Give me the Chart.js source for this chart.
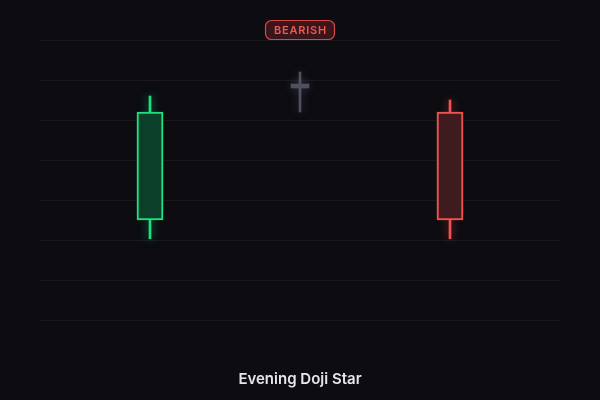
<!DOCTYPE html>
<html>
<head>
<meta charset="utf-8">
<script src="https://cdn.jsdelivr.net/npm/chart.js@4"></script>
<style>
  html, body { margin: 0; padding: 0; background: #0c0c11; }
  #wrap { width: 600px; height: 400px; position: relative; }
</style>
</head>
<body>
<div id="wrap"><canvas id="myChart"></canvas></div>
<script>
// candle data (x = session index)
const sessions = [1, 2, 3];
const opens  = [25, 58, 52];
const highs  = [56, 62, 55];
const lows   = [20.3, 52, 20.3];
const closes = [52, 58, 25];

const patternName = 'Evening Doji Star';
const signal = 'BEARISH';

// colours by candle kind
const kinds = {
  bull: { line: '#1fe07f', fill: '#0c3f29', glow: 'rgba(31,224,127,0.6)' },
  bear: { line: '#f45252', fill: '#3d1b1f', glow: 'rgba(244,82,82,0.6)' },
  doji: { line: '#50505f', fill: '#50505f', glow: 'rgba(120,120,140,0.4)' }
};

function kindOf(i) {
  if (closes[i] > opens[i]) return 'bull';
  if (closes[i] < opens[i]) return 'bear';
  return 'doji';
}

var datasets = [];
sessions.forEach(function(x, i) {
  const k = kinds[kindOf(i)];
  // wick
  datasets.push({
    data: [{ x: x, y: [lows[i], highs[i]] }],
    backgroundColor: k.line,
    borderWidth: 0,
    barThickness: 2,
    grouped: false,
    order: 2,
    glow: k.glow
  });
  // body
  const doji = kindOf(i) == 'doji';
  datasets.push({
    data: [{ x: x, y: [opens[i], closes[i]] }],
    backgroundColor: k.fill,
    borderColor: k.line,
    borderWidth: doji ? 0 : 2,
    borderSkipped: false,
    barThickness: doji ? 18 : 26,
    minBarLength: doji ? 4 : 0,
    grouped: false,
    order: 1,
    glow: k.glow
  });
});

const glowPlugin = {
  id: 'glow',
  beforeDraw(chart) {
    const ctx = chart.ctx;
    ctx.save();
    ctx.fillStyle = '#0c0c11';
    ctx.fillRect(0, 0, chart.width, chart.height);
    ctx.restore();
  },
  beforeDatasetDraw(chart, args) {
    const ctx = chart.ctx;
    ctx.save();
    ctx.shadowColor = args.meta.controller.getDataset().glow;
    ctx.shadowBlur = 10;
  },
  afterDatasetDraw(chart) {
    chart.ctx.restore();
  },
  afterDraw(chart) {
    const ctx = chart.ctx;
    ctx.save();
    // badge
    ctx.beginPath();
    ctx.roundRect(265.5, 20.5, 69, 19, 6);
    ctx.fillStyle = '#3a1519';
    ctx.fill();
    ctx.lineWidth = 1.2;
    ctx.strokeStyle = '#d94848';
    ctx.stroke();
    ctx.font = '600 11px Inter';
    ctx.letterSpacing = '0.8px';
    ctx.fillStyle = '#f25555';
    ctx.textAlign = 'center';
    ctx.textBaseline = 'middle';
    ctx.fillText(signal, 300.5, 30.5);
    // title
    ctx.letterSpacing = '0px';
    ctx.font = '600 15px Inter';
    ctx.fillStyle = '#e6e6ea';
    ctx.fillText(patternName, 300, 379);
    ctx.restore();
  }
};

var myChart = new Chart('myChart', {
  type: 'bar',
  data: { datasets: datasets },
  options: {
    responsive: true,
    maintainAspectRatio: false,
    animation: false,
    layout: { padding: { left: 40, right: 40, top: 40, bottom: 80 } },
    scales: {
      x: {
        type: 'linear',
        display: false,
        offset: false,
        min: 2 - 260 / 150,
        max: 2 + 260 / 150
      },
      y: {
        min: 0,
        max: 70,
        ticks: { display: false, stepSize: 10 },
        border: { display: false },
        grid: { color: '#18181f', lineWidth: 1, drawTicks: false },
        afterFit: function(s) { s.width = 0; }
      }
    },
    plugins: {
      legend: { display: false },
      tooltip: { enabled: false }
    }
  },
  plugins: [glowPlugin]
});
</script>
</body>
</html>
